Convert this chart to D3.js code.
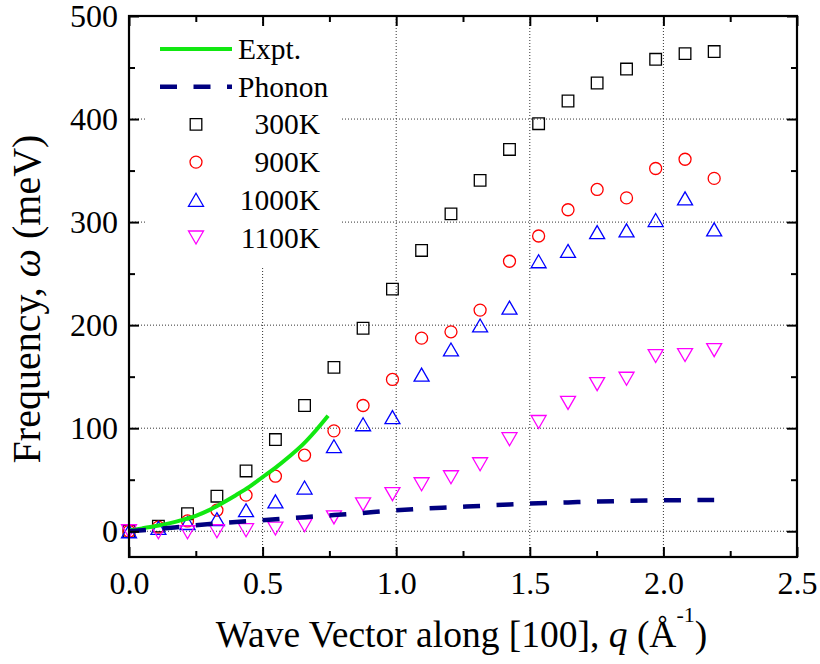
<!DOCTYPE html>
<html>
<head>
<meta charset="utf-8">
<script src="https://cdn.jsdelivr.net/npm/d3@7"></script>
<style>
  body { margin: 0; background: #fff; }
  svg { display: block; }
  text { font-family: "Liberation Serif", "Times New Roman", serif; fill: #000; }
</style>
</head>
<body>
<svg id="chart" width="820" height="664"></svg>
<script>
// ---------------- data ----------------
const q = [0, 0.110, 0.219, 0.329, 0.438, 0.548, 0.657, 0.767, 0.876, 0.986, 1.095,
           1.205, 1.314, 1.424, 1.533, 1.643, 1.752, 1.862, 1.971, 2.081, 2.190];
const w300K  = [0, 5, 17, 34, 58.5, 89, 122, 159, 197, 235, 272.5, 308, 340.5, 370.5, 395.5, 417.5, 435, 448.5, 458, 463.5, 465.5];
const w900K  = [0, 4, 10, 20.4, 35, 53.4, 73.8, 97.4, 122, 147.3, 187.4, 193.5, 214.6, 262, 286.5, 312, 331.7, 323.5, 352, 361, 342.4];
const w1000K = [0, 3.2, 8, 11.7, 20.4, 29, 42.4, 82.5, 103.8, 110.7, 152, 176.4, 199.7, 217, 262, 272, 290.3, 292, 302, 323, 292.9];
const w1100K = [0, -1, -1, 0, 1, 2.6, 5.8, 13.5, 26, 36, 45.6, 52.4, 65, 89.3, 106, 124.6, 142.7, 148, 170, 171, 175.7];

const qExpt = [0, 0.05, 0.1, 0.15, 0.2, 0.25, 0.3, 0.35, 0.4, 0.45, 0.5, 0.55, 0.6, 0.65, 0.7, 0.745];
const wExpt = [0.8, 2.8, 5, 7.6, 11, 15, 20.5, 27.5, 35, 43, 52.5, 62, 72.5, 84, 98, 112];

const wPhonon = [0, 2.2, 5, 7.5, 9.7, 11.6, 13.6, 15.7, 17.8, 20, 21.8, 23.2, 24.6, 26, 27.2, 28, 28.8, 29.4, 29.9, 30.2, 30.3];

const xTicks = [0, 0.5, 1.0, 1.5, 2.0, 2.5];
const xTickLabels = ["0.0", "0.5", "1.0", "1.5", "2.0", "2.5"];
const xMinor = [0.25, 0.75, 1.25, 1.75, 2.25];
const yTicks = [0, 100, 200, 300, 400, 500];
const yTickLabels = ["0", "100", "200", "300", "400", "500"];
const yMinor = [50, 150, 250, 350, 450];
const xGrid = [0.5, 1.0, 1.5, 2.0];
const yGrid = [0, 100, 200, 300, 400];

const seriesNames = ["300K", "900K", "1000K", "1100K"];
const seriesColors = ["#000000", "#ff0000", "#0000ff", "#ff00ff"];
const seriesShapes = ["square", "circle", "triangle", "triangleDown"];
const seriesValues = [w300K, w900K, w1000K, w1100K];

// ---------------- layout ----------------
const L = 129, R = 797, T = 16, B = 557;
const svg = d3.select("#chart");
const x = d3.scaleLinear().domain([0, 2.5]).range([L, R]);
const y = d3.scaleLinear().domain([-25, 500]).range([B, T]);

// grid
const grid = svg.append("g").attr("stroke", "#333").attr("stroke-width", 1).attr("stroke-dasharray", "1,2");
grid.selectAll(".gx").data(xGrid).enter().append("line")
  .attr("x1", d => x(d)).attr("x2", d => x(d)).attr("y1", T).attr("y2", B);
grid.selectAll(".gy").data(yGrid).enter().append("line")
  .attr("y1", d => y(d)).attr("y2", d => y(d)).attr("x1", L).attr("x2", R);

// legend background
svg.append("rect").attr("x", 145).attr("y", 24).attr("width", 197).attr("height", 244).attr("fill", "#fff");

// markers
function shapePath(shape, cx, cy) {
  if (shape === "square") {
    const h = 5.8;
    return `M${cx - h},${cy - h}H${cx + h}V${cy + h}H${cx - h}Z`;
  }
  if (shape === "triangle") {
    const hw = 7.5, hh = 6.5;
    return `M${cx},${cy - hh}L${cx + hw},${cy + hh}L${cx - hw},${cy + hh}Z`;
  }
  if (shape === "triangleDown") {
    const hw = 7.5, hh = 6.5;
    return `M${cx - hw},${cy - hh}L${cx + hw},${cy - hh}L${cx},${cy + hh}Z`;
  }
  return null;
}
function drawMarker(g, shape, color, cx, cy) {
  if (shape === "circle") {
    g.append("circle").attr("cx", cx).attr("cy", cy).attr("r", 6)
      .attr("fill", "none").attr("stroke", color).attr("stroke-width", 1.3);
  } else {
    g.append("path").attr("d", shapePath(shape, cx, cy))
      .attr("fill", "none").attr("stroke", color).attr("stroke-width", 1.3);
  }
}

const plot = svg.append("g");
seriesValues.forEach((vals, si) => {
  const g = plot.append("g");
  vals.forEach((v, i) => drawMarker(g, seriesShapes[si], seriesColors[si], x(q[i]), y(v)));
});

// lines
const exptLine = d3.line().x((d, i) => x(qExpt[i])).y(d => y(d)).curve(d3.curveMonotoneX);
svg.append("path").attr("d", exptLine(wExpt)).attr("fill", "none")
  .attr("stroke", "#11e811").attr("stroke-width", 4);

const phononLine = d3.line().x((d, i) => x(q[i])).y(d => y(d)).curve(d3.curveMonotoneX);
svg.append("path").attr("d", phononLine(wPhonon)).attr("fill", "none")
  .attr("stroke", "#000080").attr("stroke-width", 4.5).attr("stroke-dasharray", "17,16.5");

// axes
const axG = svg.append("g");
function styleAxis(g) {
  g.select(".domain").remove();
  g.selectAll(".tick line").attr("stroke", "#000").attr("stroke-width", 2);
  g.selectAll("text").style("font-family", '"Liberation Serif", "Times New Roman", serif').attr("fill", "#000");
}
axG.append("g").attr("transform", `translate(0,${B})`)
  .call(d3.axisBottom(x).tickValues(xTicks).tickFormat((d, i) => xTickLabels[i]).tickSize(-10).tickPadding(14))
  .call(styleAxis).selectAll("text").attr("font-size", 32);
axG.append("g").attr("transform", `translate(0,${B})`)
  .call(d3.axisBottom(x).tickValues(xMinor).tickFormat("").tickSize(-6)).call(styleAxis);
axG.append("g").attr("transform", `translate(0,${T})`)
  .call(d3.axisTop(x).tickValues(xTicks).tickFormat("").tickSize(-10)).call(styleAxis);
axG.append("g").attr("transform", `translate(0,${T})`)
  .call(d3.axisTop(x).tickValues(xMinor).tickFormat("").tickSize(-6)).call(styleAxis);
axG.append("g").attr("transform", `translate(${L},0)`)
  .call(d3.axisLeft(y).tickValues(yTicks).tickFormat((d, i) => yTickLabels[i]).tickSize(-10).tickPadding(11))
  .call(styleAxis).selectAll("text").attr("font-size", 32);
axG.append("g").attr("transform", `translate(${L},0)`)
  .call(d3.axisLeft(y).tickValues(yMinor).tickFormat("").tickSize(-6)).call(styleAxis);
axG.append("g").attr("transform", `translate(${R},0)`)
  .call(d3.axisRight(y).tickValues(yTicks).tickFormat("").tickSize(-10)).call(styleAxis);
axG.append("g").attr("transform", `translate(${R},0)`)
  .call(d3.axisRight(y).tickValues(yMinor).tickFormat("").tickSize(-6)).call(styleAxis);

svg.append("rect").attr("x", L).attr("y", T).attr("width", R - L).attr("height", B - T)
  .attr("fill", "none").attr("stroke", "#000").attr("stroke-width", 2.2);

// axis titles
const xt = svg.append("text").attr("x", 461.5).attr("y", 647).attr("text-anchor", "middle").attr("font-size", 37.5);
xt.append("tspan").text("Wave Vector along [100], ");
xt.append("tspan").attr("font-style", "italic").text("q");
xt.append("tspan").text(" (Å");
xt.append("tspan").attr("font-size", 22).attr("dy", -25).text("-1");
xt.append("tspan").attr("dy", 25).text(")");

const yt = svg.append("text").attr("transform", `translate(40,299) rotate(-90)`)
  .attr("text-anchor", "middle").attr("font-size", 40);
yt.append("tspan").text("Frequency, ");
yt.append("tspan").attr("font-style", "italic").text("ω");
yt.append("tspan").text(" (meV)");

// legend
const legY0 = 49, legStep = 37.7;
const leg = svg.append("g");
leg.append("line").attr("x1", 160).attr("x2", 232).attr("y1", legY0).attr("y2", legY0)
  .attr("stroke", "#11e811").attr("stroke-width", 4);
leg.append("text").attr("x", 238).attr("y", legY0 + 10).attr("font-size", 29.5).text("Expt.");
leg.append("line").attr("x1", 160).attr("x2", 232).attr("y1", legY0 + legStep).attr("y2", legY0 + legStep)
  .attr("stroke", "#000080").attr("stroke-width", 4.5).attr("stroke-dasharray", "17,16.5");
leg.append("text").attr("x", 238).attr("y", legY0 + legStep + 10).attr("font-size", 29.5).text("Phonon");
seriesNames.forEach((name, i) => {
  const cy = legY0 + legStep * (i + 2);
  drawMarker(leg, seriesShapes[i], seriesColors[i], 196, cy);
  leg.append("text").attr("x", 320).attr("y", cy + 10).attr("text-anchor", "end").attr("font-size", 29.5).text(name);
});
</script>
</body>
</html>
